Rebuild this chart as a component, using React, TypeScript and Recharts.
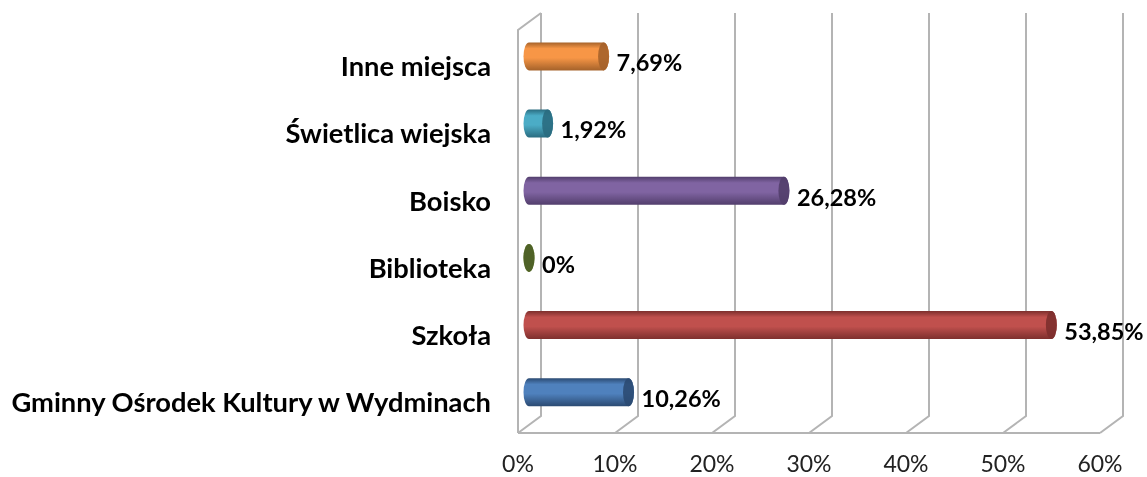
import { BarChart, Bar, XAxis, YAxis, ReferenceLine, LabelList } from "recharts";

const categories = ["Inne miejsca", "Świetlica wiejska", "Boisko", "Biblioteka", "Szkoła", "Gminny Ośrodek Kultury w Wydminach"];
const values = [7.69, 1.92, 26.28, 0, 53.85, 10.26];
const valueLabels = ["7,69%", "1,92%", "26,28%", "0%", "53,85%", "10,26%"];
const xTicks = [0, 10, 20, 30, 40, 50, 60];

const barColors = ["#f79646", "#4bacc6", "#8064a2", "#7b9440", "#c0504d", "#4f81bd"];
const barDark = ["#a5622a", "#2a6c80", "#523e6c", "#4f6227", "#7d2f2d", "#2b4a72"];

const data = categories.map((name, i) => ({ name, value: values[i], label: valueLabels[i] }));

const FONT = "Lato, sans-serif";
const GRID = "#b4b4b4";
const DEPTH_X = 23;
const DEPTH_Y = 17;

function DepthGridLine(props: any) {
  const { x1, y1, y2 } = props;
  const top = Math.min(y1, y2);
  const bottom = Math.max(y1, y2);
  const bx = x1 + DEPTH_X;
  let d = `M${bx},${top - DEPTH_Y} L${bx},${bottom - DEPTH_Y} L${x1},${bottom}`;
  if (props.wall) d += ` M${x1},${bottom} L${x1},${top} L${bx},${top - DEPTH_Y}`;
  return <path d={d} fill="none" stroke={GRID} strokeWidth={2} />;
}

function Cylinder(props: any) {
  const { x, y, width, height, index } = props;
  const cx = x + 11;
  const top = y - 7.6;
  const rx = 5.5;
  const ry = height / 2;
  return (
    <g>
      <path
        d={`M${cx},${top} L${cx + width},${top} A${rx},${ry} 0 0 1 ${cx + width},${top + height} L${cx},${top + height} A${rx},${ry} 0 0 1 ${cx},${top} Z`}
        fill={width > 0 ? `url(#cyl${index})` : barColors[index]}
      />
      <ellipse cx={cx + width} cy={top + ry} rx={rx} ry={ry} fill={barDark[index]} opacity={width > 0 ? 0.9 : 1} />
    </g>
  );
}

function ValueLabel(props: any) {
  const { x, y, width, height, value } = props;
  return (
    <text x={x + width + 24} y={y + height / 2 - 1} dy="0.35em" fontFamily={FONT} fontWeight={700} fontSize={23.5} fill="#000">
      {value}
    </text>
  );
}

export default function App() {
  return (
    <div style={{ position: "absolute", left: 0, top: 0, width: 1147, height: 477, background: "#fff", filter: "blur(0.4px)" }}>
      <BarChart
        width={1147}
        height={477}
        data={data}
        layout="vertical"
        barSize={28}
        margin={{ top: 30, right: 47, bottom: 0, left: 0 }}
      >
        <defs>
          {barColors.map((c, i) => (
            <linearGradient key={c} id={`cyl${i}`} x1="0" y1="0" x2="0" y2="1">
              <stop offset="0%" stopColor={barDark[i]} />
              <stop offset="22%" stopColor={c} />
              <stop offset="55%" stopColor={c} />
              <stop offset="100%" stopColor={barDark[i]} />
            </linearGradient>
          ))}
        </defs>
        <XAxis
          type="number"
          domain={[0, 60]}
          ticks={xTicks}
          tickFormatter={(v) => `${v}%`}
          height={44}
          interval={0}
          axisLine={{ stroke: GRID, strokeWidth: 2 }}
          tickLine={false}
          tickMargin={17}
          tick={{ fontFamily: FONT, fontSize: 23, fill: "#222" }}
        />
        <YAxis
          type="category"
          dataKey="name"
          width={518}
          axisLine={false}
          tickLine={false}
          tickMargin={21}
          interval={0}
          tick={{ fontFamily: FONT, fontWeight: 700, fontSize: 27.3, fill: "#000", dy: 3 }}
        />
        {xTicks.map((t) => (
          <ReferenceLine
            key={t}
            x={t}
            zIndex={-100}
            stroke={GRID}
            shape={(p: any) => <DepthGridLine {...p} wall={t === 0} />}
          />
        ))}
        <Bar dataKey="value" isAnimationActive={false} shape={Cylinder}>
          <LabelList dataKey="label" content={ValueLabel} />
        </Bar>
      </BarChart>
    </div>
  );
}
